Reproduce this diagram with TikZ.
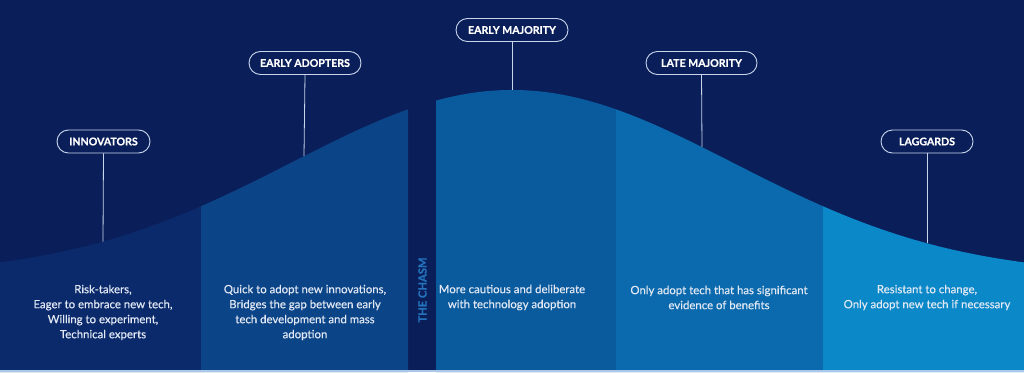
\documentclass[tikz,border=0pt]{standalone}
\usepackage{fontspec}
\setmainfont{Lato}
\newfontfamily\heavyfont{Lato}[BoldFeatures={FakeBold=0.7}]
\newfontfamily\midfont{Lato}[UprightFeatures={FakeBold=0.35}]
\definecolor{bgc}{HTML}{0A1F5A}
\definecolor{innc}{HTML}{0B2A6B}
\definecolor{eac}{HTML}{0C4488}
\definecolor{emc}{HTML}{0A5A9E}
\definecolor{lmc}{HTML}{0A6AAD}
\definecolor{lgc}{HTML}{0A88C8}
\definecolor{pillline}{HTML}{C9D5EA}
\definecolor{bodyt}{HTML}{E2E9F4}
\definecolor{chasmt}{HTML}{2472BC}
\definecolor{stripe}{HTML}{A9C8EA}
\tikzset{
  pill/.style={draw=pillline, line width=0.9pt, fill=bgc, rounded corners=11.5pt,
    minimum height=23pt, inner xsep=8pt, text=white,
    font=\heavyfont\fontsize{10.6}{12}\selectfont\bfseries},
  leader/.style={draw=pillline, line width=0.8pt},
  desc/.style={align=center, text=bodyt, font=\midfont\fontsize{11.4}{15}\selectfont},
}
\newcommand{\bellf}[1]{275-185*exp(-(((#1)-512)/221)*(((#1)-512)/221)/2)}
\begin{document}
\begin{tikzpicture}[x=1pt,y=-1pt]
\useasboundingbox (0,0) rectangle (1024,372);
\fill[bgc] (0,0) rectangle (1024,372);
% segments
\fill[innc] (0,372) -- plot[domain=0:201,samples=40,variable=\t] (\t,{\bellf{\t}}) -- (201,372) -- cycle;
\fill[eac] (201,372) -- plot[domain=201:408,samples=40,variable=\t] (\t,{\bellf{\t}}) -- (408,372) -- cycle;
\fill[emc] (436,372) -- plot[domain=436:616,samples=40,variable=\t] (\t,{\bellf{\t}}) -- (616,372) -- cycle;
\fill[lmc] (616,372) -- plot[domain=616:823,samples=40,variable=\t] (\t,{\bellf{\t}}) -- (823,372) -- cycle;
\fill[lgc] (823,372) -- plot[domain=823:1024,samples=40,variable=\t] (\t,{\bellf{\t}}) -- (1024,372) -- cycle;
\fill[stripe] (0,370) rectangle (1024,372);
% curve points
\coordinate (c1) at (103,{\bellf{103}});
\coordinate (c2) at (304,{\bellf{304}});
\coordinate (c3) at (512,{\bellf{512}});
\coordinate (c4) at (702,{\bellf{702}});
\coordinate (c5) at (927,{\bellf{927}});
% pills
\node[pill, minimum width=93pt] (p1) at (103.5,141.5) {INNOVATORS};
\node[pill, minimum width=112pt] (p2) at (305,63) {EARLY ADOPTERS};
\node[pill, minimum width=112pt] (p3) at (512,30) {EARLY MAJORITY};
\node[pill, minimum width=111pt] (p4) at (701.5,63) {LATE MAJORITY};
\node[pill, minimum width=92pt] (p5) at (927,141.5) {LAGGARDS};
\draw[leader] (p1.south) -- (c1);
\draw[leader] (p2.south) -- (c2);
\draw[leader] (p3.south) -- (c3);
\draw[leader] (p4.south) -- (c4);
\draw[leader] (p5.south) -- (c5);
% descriptions
\node[desc] (d1) at (103,312.5) {Risk-takers,\\Eager to embrace new tech,\\Willing to experiment,\\Technical experts};
\node[desc] (d2) at (305,312.5) {Quick to adopt new innovations,\\Bridges the gap between early\\tech development and mass\\adoption};
\node[desc] (d3) at (512,297.5) {More cautious and deliberate\\with technology adoption};
\node[desc] (d4) at (719,297.5) {Only adopt tech that has significant\\evidence of benefits};
\node[desc] (d5) at (927,297.5) {Resistant to change,\\Only adopt new tech if necessary};
\node[rotate=90, text=chasmt, font=\heavyfont\fontsize{11.2}{12}\selectfont\bfseries] (ch) at (422.5,290) {THE CHASM};
\end{tikzpicture}
\end{document}
